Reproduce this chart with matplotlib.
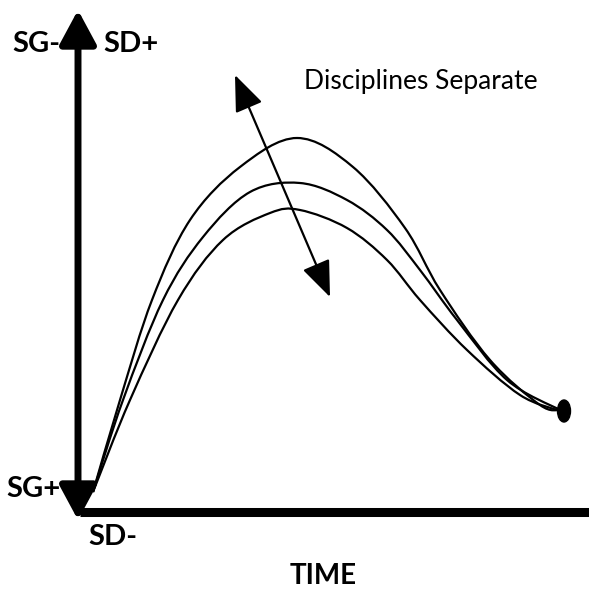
import matplotlib
matplotlib.use("Agg")
import matplotlib.pyplot as plt
from matplotlib.path import Path
from matplotlib.patches import Ellipse, PathPatch

font = "Lato"

# curves (x, y in picture pixels, y downwards)
top_x = [93, 120, 152, 190, 240, 297, 353, 405, 440, 490, 540, 560]
top_y = [492, 400, 300, 220, 167, 138, 167, 228, 290, 360, 405, 410]

mid_x = [93, 123, 163, 203, 250, 300, 347, 387, 420, 457, 507, 560]
mid_y = [492, 400, 300, 237, 192, 183, 200, 230, 270, 320, 380, 410]

low_x = [93, 130, 178, 223, 270, 300, 347, 387, 420, 467, 520, 560]
low_y = [492, 400, 300, 240, 213, 210, 228, 260, 300, 350, 395, 411]

end_point = (564, 411)


def smooth_path(xs, ys):
    # catmull-rom through the points, drawn as cubic beziers
    pts = list(zip(xs, ys))
    verts = [pts[0]]
    codes = [Path.MOVETO]
    for i in range(len(pts) - 1):
        p0 = pts[i - 1] if i > 0 else pts[i]
        p1 = pts[i]
        p2 = pts[i + 1]
        p3 = pts[i + 2] if i + 2 < len(pts) else pts[i + 1]
        c1 = (p1[0] + (p2[0] - p0[0]) / 6, p1[1] + (p2[1] - p0[1]) / 6)
        c2 = (p2[0] - (p3[0] - p1[0]) / 6, p2[1] - (p3[1] - p1[1]) / 6)
        verts += [c1, c2, p2]
        codes += [Path.CURVE4] * 3
    return Path(verts, codes)


fig = plt.figure(figsize=(5.89, 5.89), dpi=100)
ax = fig.add_axes([0, 0, 1, 1])
ax.set_xlim(0, 589)
ax.set_ylim(589, 0)
ax.axis("off")

for xs, ys in [(top_x, top_y), (mid_x, mid_y), (low_x, low_y)]:
    ax.add_patch(PathPatch(smooth_path(xs, ys), fill=False, edgecolor="black", lw=1.6))

ax.add_patch(Ellipse(end_point, 13, 22, color="black"))

# axes
ax.plot([80, 589], [512, 512], color="black", lw=6.5, solid_capstyle="butt")
ax.annotate("", xy=(78, 10), xytext=(78, 520),
            arrowprops=dict(arrowstyle="<|-|>,head_length=1.3,head_width=0.7",
                            mutation_scale=16, lw=5, color="black",
                            shrinkA=0, shrinkB=0))

# separating arrow
ax.annotate("", xy=(235, 75), xytext=(330, 297),
            arrowprops=dict(arrowstyle="<|-|>,head_length=1.5,head_width=0.6",
                            mutation_scale=15, lw=1.6, color="black",
                            shrinkA=0, shrinkB=0))

ax.text(421, 82, "Disciplines Separate", fontsize=19, family=font,
        ha="center", va="center")
ax.text(36, 44, "SG-", fontsize=21, family=font, weight="bold", ha="center", va="center")
ax.text(131, 44, "SD+", fontsize=21, family=font, weight="bold", ha="center", va="center")
ax.text(33, 489, "SG+", fontsize=21, family=font, weight="bold", ha="center", va="center")
ax.text(113, 537, "SD-", fontsize=21, family=font, weight="bold", ha="center", va="center")
ax.text(323, 576, "TIME", fontsize=20, family=font, weight="bold", ha="center", va="center")

fig.savefig("out.png", dpi=100)
